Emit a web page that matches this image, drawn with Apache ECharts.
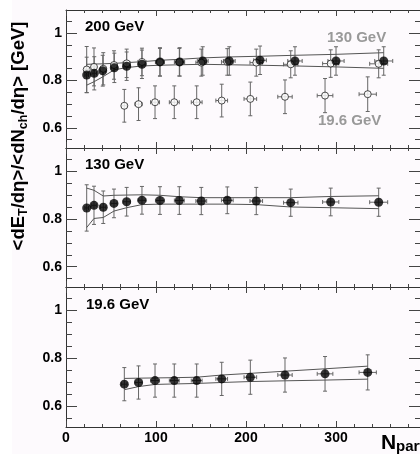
<!DOCTYPE html>
<html>
<head>
<meta charset="utf-8">
<script src="https://cdn.jsdelivr.net/npm/echarts@6/dist/echarts.min.js"></script>
<style>
  html, body { margin: 0; padding: 0; background: #fdfafd; }
  #chart { width: 420px; height: 454px; }
</style>
</head>
<body>
<div id="chart"></div>
<script>
// ---- 200 GeV: <dET/dη>/<dNch/dη> vs Npart ----
const npart200 = [23, 31.4, 40.8, 53.7, 67.4, 84.4, 104.4, 126.3, 151.9, 181.4, 215.6, 254.4, 300, 353];
const et200    = [0.823, 0.830, 0.841, 0.853, 0.860, 0.868, 0.878, 0.878, 0.882, 0.882, 0.885, 0.882, 0.882, 0.882];
const err200   = [0.075, 0.07, 0.065, 0.062, 0.06, 0.06, 0.06, 0.06, 0.06, 0.06, 0.06, 0.06, 0.06, 0.06];
const xerr200  = [2, 2.5, 3, 3.5, 4, 4.5, 5, 5.5, 6, 6.5, 7, 8, 9, 10];
const sysHi200 = [0.868, 0.869, 0.870, 0.872, 0.875, 0.879, 0.885, 0.889, 0.895, 0.899, 0.902, 0.906, 0.910, 0.917];
const sysLo200 = [0.780, 0.795, 0.815, 0.845, 0.854, 0.861, 0.864, 0.866, 0.868, 0.866, 0.864, 0.861, 0.857, 0.851];

// ---- 130 GeV ----
const npart130 = [23, 31.1, 41.4, 53.3, 67.4, 84.4, 104.4, 125.9, 150.3, 179.2, 211.4, 249.7, 294.1, 347.4];
const et130    = [0.846, 0.857, 0.849, 0.865, 0.872, 0.878, 0.877, 0.877, 0.875, 0.878, 0.875, 0.868, 0.871, 0.870];
const err130   = [0.097, 0.08, 0.068, 0.06, 0.06, 0.058, 0.058, 0.058, 0.057, 0.056, 0.057, 0.057, 0.058, 0.059];
const xerr130  = [2, 2.5, 3, 3.5, 4, 4.5, 5, 5.5, 6, 6.5, 7, 8, 9, 10];
const sysHi130 = [0.929, 0.920, 0.896, 0.899, 0.900, 0.901, 0.899, 0.893, 0.889, 0.889, 0.889, 0.889, 0.894, 0.897];
const sysLo130 = [0.764, 0.802, 0.806, 0.833, 0.847, 0.860, 0.862, 0.862, 0.862, 0.862, 0.860, 0.850, 0.847, 0.843];

// ---- 19.6 GeV ----
const npart19 = [64.8, 80.6, 98.9, 120.3, 145.2, 173, 204.8, 243.3, 287.8, 335.2];
const et19    = [0.693, 0.700, 0.708, 0.708, 0.708, 0.715, 0.722, 0.731, 0.736, 0.742];
const err19   = [0.069, 0.069, 0.069, 0.069, 0.069, 0.069, 0.071, 0.071, 0.072, 0.073];
const xerr19  = [3, 4, 5, 5.5, 6, 6.5, 7, 8, 8.7, 9.6];
const sysHi19 = [0.717, 0.718, 0.719, 0.720, 0.722, 0.731, 0.738, 0.747, 0.757, 0.768];
const sysLo19 = [0.670, 0.683, 0.692, 0.694, 0.696, 0.700, 0.704, 0.707, 0.710, 0.714];

// ---- axis ticks ----
const xMajorTicks = [0, 100, 200, 300];
const xMinorTicks = [20, 40, 60, 80, 120, 140, 160, 180, 220, 240, 260, 280, 320, 340, 360, 380];
const yMajorTicks = [0.6, 0.8, 1.0];
const yMinorTicks = [0.55, 0.65, 0.7, 0.75, 0.85, 0.9, 0.95, 1.05];
const X_MIN = 0, X_MAX = 393.3;
const Y_MIN = 0.515, Y_MAX = 1.097;

const FONT = 'Liberation Sans, Arial, Helvetica, sans-serif';
const panels = [
  { top: 10,  height: 138 },
  { top: 148, height: 139 },
  { top: 287, height: 140 }
];

const grids = panels.map(p => ({ left: 66, top: p.top, width: 354, height: p.height, containLabel: false }));

const lineCol = '#333';
const tickCol = '#444';

const xAxes = [];
const yAxes = [];
panels.forEach((p, g) => {
  const xBase = {
    gridIndex: g, type: 'value', min: X_MIN, max: X_MAX,
    splitLine: { show: false },
    axisLine: { show: true, onZero: false, lineStyle: { color: lineCol, width: 1 } },
    axisLabel: { show: false }
  };
  const xLabel = g === 2
    ? { show: true, customValues: xMajorTicks, margin: 4, fontFamily: FONT, fontWeight: 'bold', fontSize: 14, color: '#000' }
    : { show: false };
  xAxes.push(Object.assign({}, xBase, { position: 'bottom',
    axisTick: { show: true, inside: true, length: 6, customValues: xMajorTicks, lineStyle: { color: tickCol } },
    axisLabel: xLabel }));
  xAxes.push(Object.assign({}, xBase, { position: 'bottom', axisLine: { show: false, onZero: false },
    axisTick: { show: true, inside: true, length: 3, customValues: xMinorTicks, lineStyle: { color: tickCol } } }));
  xAxes.push(Object.assign({}, xBase, { position: 'top',
    axisTick: { show: true, inside: true, length: 6, customValues: xMajorTicks, lineStyle: { color: tickCol } } }));
  xAxes.push(Object.assign({}, xBase, { position: 'top', axisLine: { show: false, onZero: false },
    axisTick: { show: true, inside: true, length: 3, customValues: xMinorTicks, lineStyle: { color: tickCol } } }));

  const yBase = {
    gridIndex: g, type: 'value', min: Y_MIN, max: Y_MAX,
    splitLine: { show: false },
    axisLine: { show: true, onZero: false, lineStyle: { color: lineCol, width: 1 } },
    axisLabel: { show: false }
  };
  yAxes.push(Object.assign({}, yBase, { position: 'left',
    axisTick: { show: true, inside: true, length: 11, customValues: yMajorTicks, lineStyle: { color: tickCol } },
    axisLabel: { show: true, customValues: yMajorTicks, margin: 4, fontFamily: FONT, fontWeight: 'bold', fontSize: 14, color: '#000',
      formatter: v => (Math.abs(v - 1) < 1e-9 ? '1' : v.toFixed(1)) } }));
  yAxes.push(Object.assign({}, yBase, { position: 'left', axisLine: { show: false, onZero: false },
    axisTick: { show: true, inside: true, length: 6, customValues: yMinorTicks, lineStyle: { color: tickCol } } }));
  yAxes.push(Object.assign({}, yBase, { position: 'right',
    axisTick: { show: true, inside: true, length: 11, customValues: yMajorTicks, lineStyle: { color: tickCol } } }));
  yAxes.push(Object.assign({}, yBase, { position: 'right', axisLine: { show: false, onZero: false },
    axisTick: { show: true, inside: true, length: 5, customValues: yMinorTicks, lineStyle: { color: tickCol } } }));
});

// error bars with end caps, vertical and horizontal
function errorBarItem(params, api) {
  const x = api.value(0), y = api.value(1), ey = api.value(2), ex = api.value(3);
  const c = api.coord([x, y]);
  const yt = api.coord([x, y + ey])[1];
  const yb = api.coord([x, y - ey])[1];
  const xl = api.coord([x - ex, y])[0];
  const xr = api.coord([x + ex, y])[0];
  const cap = 2;
  const style = { stroke: '#666', lineWidth: 1, fill: null };
  const seg = (x1, y1, x2, y2) => ({ type: 'line', shape: { x1, y1, x2, y2 }, style });
  return {
    type: 'group',
    children: [
      seg(c[0], yt, c[0], yb),
      seg(c[0] - cap, yt, c[0] + cap, yt),
      seg(c[0] - cap, yb, c[0] + cap, yb),
      seg(xl, c[1], xr, c[1]),
      seg(xl, c[1] - cap, xl, c[1] + cap),
      seg(xr, c[1] - cap, xr, c[1] + cap)
    ]
  };
}

const rows = (n, v, e, xe) => n.map((x, i) => [x, v[i], e[i], xe[i]]);
const pts = (n, v) => n.map((x, i) => [x, v[i]]);

function errSeries(g, n, v, e, xe) {
  return { type: 'custom', xAxisIndex: g * 4, yAxisIndex: g * 4, renderItem: errorBarItem,
    data: rows(n, v, e, xe), silent: true, z: 2 };
}
function bandLine(g, n, v) {
  return { type: 'line', xAxisIndex: g * 4, yAxisIndex: g * 4, data: pts(n, v), symbol: 'none',
    lineStyle: { color: '#555', width: 1 }, silent: true, z: 3 };
}
function filled(g, n, v) {
  return { type: 'scatter', xAxisIndex: g * 4, yAxisIndex: g * 4, data: pts(n, v), symbol: 'circle',
    symbolSize: 9, itemStyle: { color: '#000' }, silent: true, z: 5 };
}
function open(g, n, v) {
  return { type: 'scatter', xAxisIndex: g * 4, yAxisIndex: g * 4, data: pts(n, v), symbol: 'circle',
    symbolSize: 7, itemStyle: { color: '#fff', borderColor: '#222', borderWidth: 1 }, silent: true, z: 4 };
}

const series = [
  // top panel: 200 GeV with 130 and 19.6 GeV for comparison
  errSeries(0, npart19, et19, err19, xerr19),
  errSeries(0, npart130, et130, err130, xerr130),
  errSeries(0, npart200, et200, err200, xerr200),
  bandLine(0, npart200, sysHi200),
  bandLine(0, npart200, sysLo200),
  open(0, npart19, et19),
  open(0, npart130, et130),
  filled(0, npart200, et200),
  // middle panel: 130 GeV
  errSeries(1, npart130, et130, err130, xerr130),
  bandLine(1, npart130, sysHi130),
  bandLine(1, npart130, sysLo130),
  filled(1, npart130, et130),
  // bottom panel: 19.6 GeV
  errSeries(2, npart19, et19, err19, xerr19),
  bandLine(2, npart19, sysHi19),
  bandLine(2, npart19, sysLo19),
  filled(2, npart19, et19)
];

const label = (text, x, y, color) => ({
  type: 'text', x, y,
  style: { text, fill: color, font: 'bold 15px ' + FONT, textAlign: 'left', textVerticalAlign: 'middle', align: 'left', verticalAlign: 'middle' },
  silent: true
});

const graphic = [
  { type: 'rect', shape: { x: 0, y: 0, width: 12, height: 454 }, style: { fill: '#ffffff' }, silent: true, z: -10 },
  label('200 GeV', 85, 27, '#000'),
  label('130 GeV', 327, 38, '#999'),
  label('19.6 GeV', 318, 121, '#999'),
  label('130 GeV', 85, 165, '#000'),
  label('19.6 GeV', 86, 305, '#000'),
  {
    type: 'text', x: 19, y: 136, rotation: Math.PI / 2,
    style: {
      text: '<dE{sub|T}/dη>/<dN{sub|ch}/dη> [GeV]',
      fill: '#000', fontFamily: FONT, fontWeight: 'bold', fontSize: 18.5, lineHeight: 22,
      textAlign: 'center', textVerticalAlign: 'middle', align: 'center', verticalAlign: 'middle',
      rich: { sub: { fontFamily: FONT, fontWeight: 'bold', fontSize: 12.5, lineHeight: 12, verticalAlign: 'bottom', fill: '#000' } }
    },
    silent: true
  },
  { type: 'text', x: 381, y: 443,
    style: { text: 'N', fill: '#000', font: 'bold 21px ' + FONT, textAlign: 'left', textVerticalAlign: 'middle', align: 'left', verticalAlign: 'middle' }, silent: true },
  { type: 'text', x: 396, y: 447,
    style: { text: 'part', fill: '#000', font: 'bold 15px ' + FONT, textAlign: 'left', textVerticalAlign: 'middle', align: 'left', verticalAlign: 'middle' }, silent: true }
];

const chart = echarts.init(document.getElementById('chart'), null, { renderer: 'canvas' });
chart.setOption({
  backgroundColor: '#fdfafd',
  animation: false,
  grid: grids,
  xAxis: xAxes,
  yAxis: yAxes,
  series,
  graphic
});
</script>
</body>
</html>
